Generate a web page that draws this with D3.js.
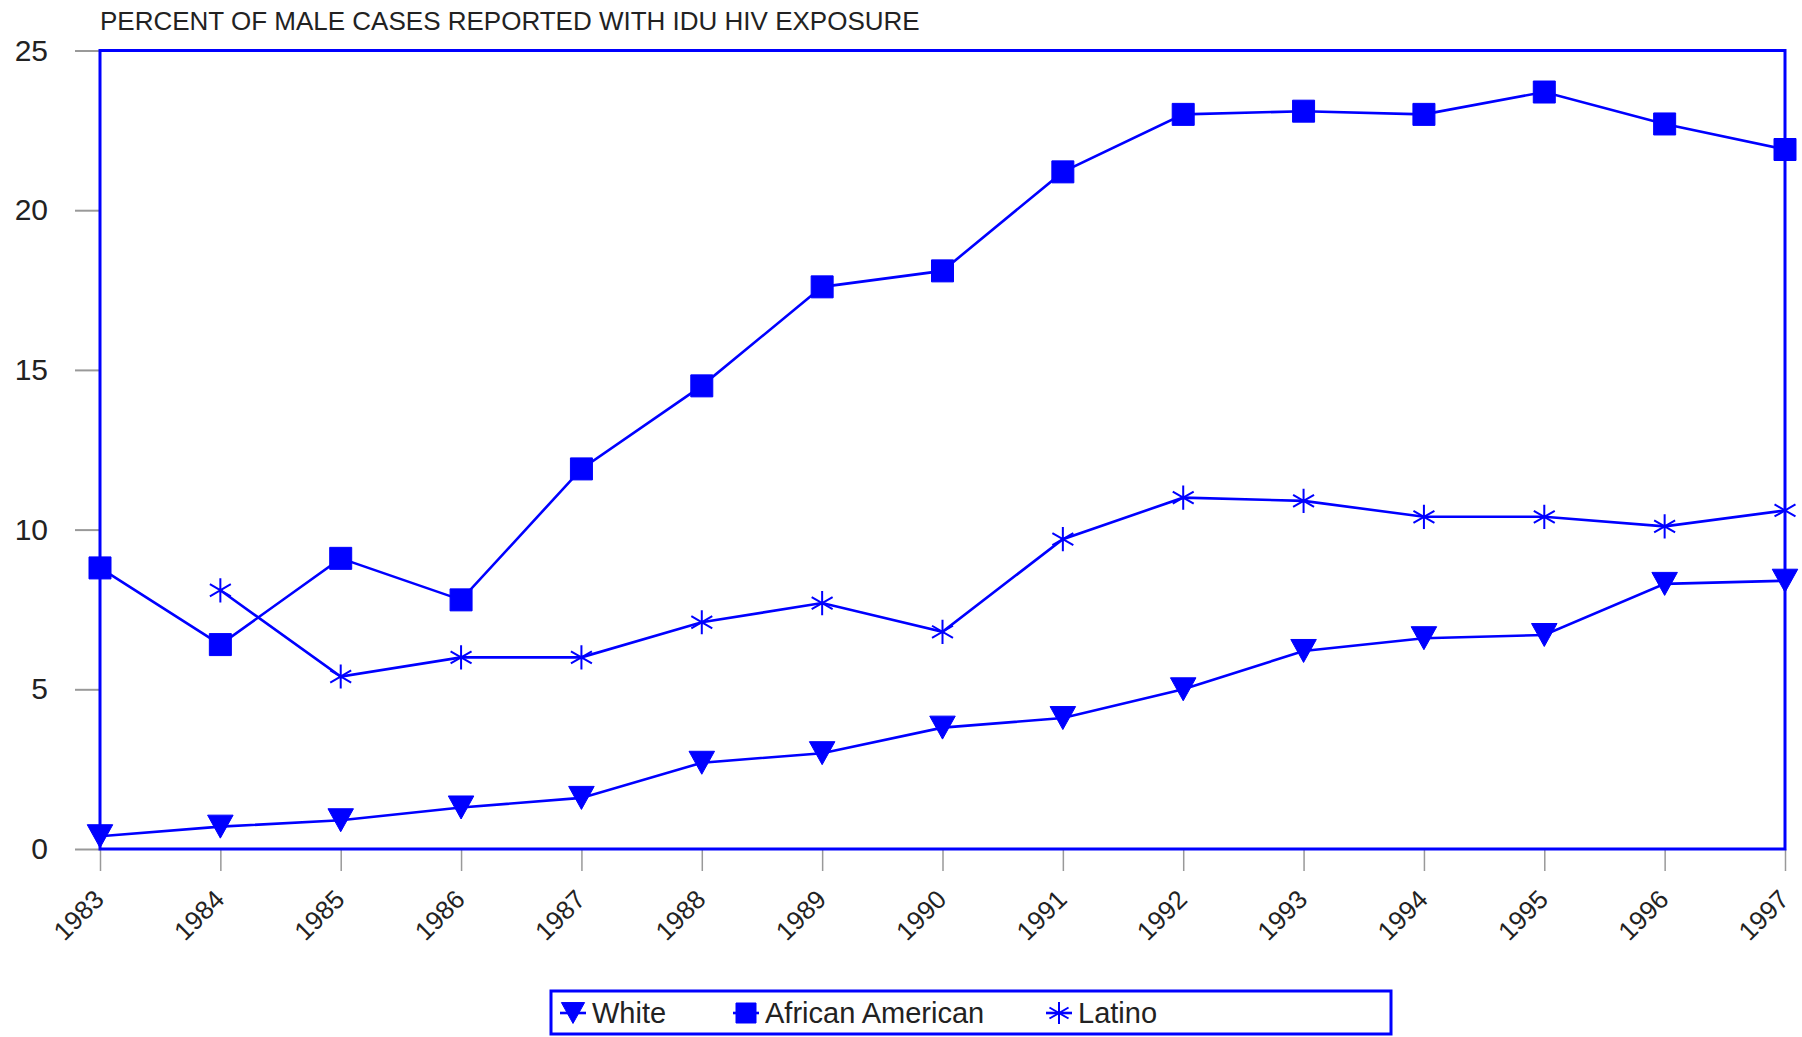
<!DOCTYPE html>
<html><head><meta charset="utf-8">
<script src="https://cdn.jsdelivr.net/npm/d3@7"></script>
<style>body{margin:0;background:#fff;} svg{display:block;}</style>
</head><body>
<svg id="c" width="1802" height="1037"></svg>
<script>
const years = [1983,1984,1985,1986,1987,1988,1989,1990,1991,1992,1993,1994,1995,1996,1997];
const white = [0.4,0.7,0.9,1.3,1.6,2.7,3.0,3.8,4.1,5.0,6.2,6.6,6.7,8.3,8.4];
const africanAmerican = [8.8,6.4,9.1,7.8,11.9,14.5,17.6,18.1,21.2,23.0,23.1,23.0,23.7,22.7,21.9];
const latino = [null,8.1,5.4,6.0,6.0,7.1,7.7,6.8,9.7,11.0,10.9,10.4,10.4,10.1,10.6];
const yTicks = [0,5,10,15,20,25];
const seriesNames = ["White","African American","Latino"];
const titleText = "PERCENT OF MALE CASES REPORTED WITH IDU HIV EXPOSURE";

const blue = "#0000ff";
const svg = d3.select("#c");
const L = 100, R = 1785, T = 50.5, B = 849;
const x = d3.scaleLinear().domain([1983,1997]).range([L,R]);
const y = d3.scaleLinear().domain([0,25]).range([B,T]);
const font = "'Liberation Sans', Arial, sans-serif";

svg.append("text").attr("x",100).attr("y",30).attr("font-family",font)
  .attr("font-size",26).attr("fill","#222").text(titleText);

// y axis
const ya = svg.append("g").attr("transform",`translate(${L},0)`)
  .call(d3.axisLeft(y).tickValues(yTicks).tickSize(25).tickPadding(27).tickFormat(d3.format("d")));
ya.select(".domain").remove();
ya.selectAll(".tick line").attr("stroke","#999").attr("stroke-width",2);
ya.selectAll(".tick text").attr("font-family",font).attr("font-size",30).attr("fill","#222");

// x axis
const xa = svg.append("g").attr("transform",`translate(0,${B})`)
  .call(d3.axisBottom(x).tickValues(years).tickSize(22).tickPadding(0).tickFormat(d3.format("d")));
xa.select(".domain").remove();
xa.selectAll(".tick line").attr("stroke","#999").attr("stroke-width",1.5);
xa.selectAll(".tick text").attr("font-family",font).attr("font-size",26).attr("fill","#222")
  .attr("text-anchor","end").attr("dy",null).attr("y",null)
  .attr("transform","translate(5,52) rotate(-45)");

// frame
svg.append("rect").attr("x",L).attr("y",T).attr("width",R-L).attr("height",B-T)
  .attr("fill","none").attr("stroke",blue).attr("stroke-width",3);

function markerPath(type, s){
  if(type==="tri"){ const w=s*0.58, h=s*0.95; return `M${-w},${-h*0.55}L${w},${-h*0.55}L0,${h*0.55}Z`; }
  if(type==="sq"){ const h=s*0.5; return `M${-h},${-h}H${h}V${h}H${-h}Z`; }
  const r=s*0.55, a=Math.cos(Math.PI/6)*r, b=Math.sin(Math.PI/6)*r;
  return `M0,${-r}L0,${r}M${-a},${-b}L${a},${b}M${-a},${b}L${a},${-b}`;
}

const series = [
  {name:seriesNames[0], vals:white, m:"tri"},
  {name:seriesNames[1], vals:africanAmerican, m:"sq"},
  {name:seriesNames[2], vals:latino, m:"ast"}
];
const line = d3.line().defined(d=>d.v!=null).x(d=>x(d.yr)).y(d=>y(d.v));
series.forEach(s=>{
  const pts = years.map((yr,i)=>({yr, v:s.vals[i]}));
  svg.append("path").datum(pts).attr("d",line).attr("fill","none").attr("stroke",blue).attr("stroke-width",2.6);
  svg.selectAll(null).data(pts.filter(d=>d.v!=null)).enter().append("path")
    .attr("transform",d=>`translate(${x(d.yr)},${y(d.v)})`)
    .attr("d",markerPath(s.m,22))
    .attr("fill",s.m==="ast"?"none":blue).attr("stroke",blue).attr("stroke-width",s.m==="ast"?2:1);
});

// legend
const lg = svg.append("g");
lg.append("rect").attr("x",551).attr("y",991).attr("width",840).attr("height",43)
  .attr("fill","none").attr("stroke",blue).attr("stroke-width",3);
const legX = [573, 746, 1059];
series.forEach((s,i)=>{
  const cx = legX[i], cy = 1013;
  lg.append("line").attr("x1",cx-13).attr("x2",cx+13).attr("y1",cy).attr("y2",cy).attr("stroke",blue).attr("stroke-width",2.6);
  lg.append("path").attr("transform",`translate(${cx},${cy})`).attr("d",markerPath(s.m,20))
    .attr("fill",s.m==="ast"?"none":blue).attr("stroke",blue).attr("stroke-width",s.m==="ast"?2:1);
  lg.append("text").attr("x",cx+19).attr("y",cy+10).attr("font-family",font).attr("font-size",29)
    .attr("fill","#222").text(s.name);
});
</script>
</body></html>
